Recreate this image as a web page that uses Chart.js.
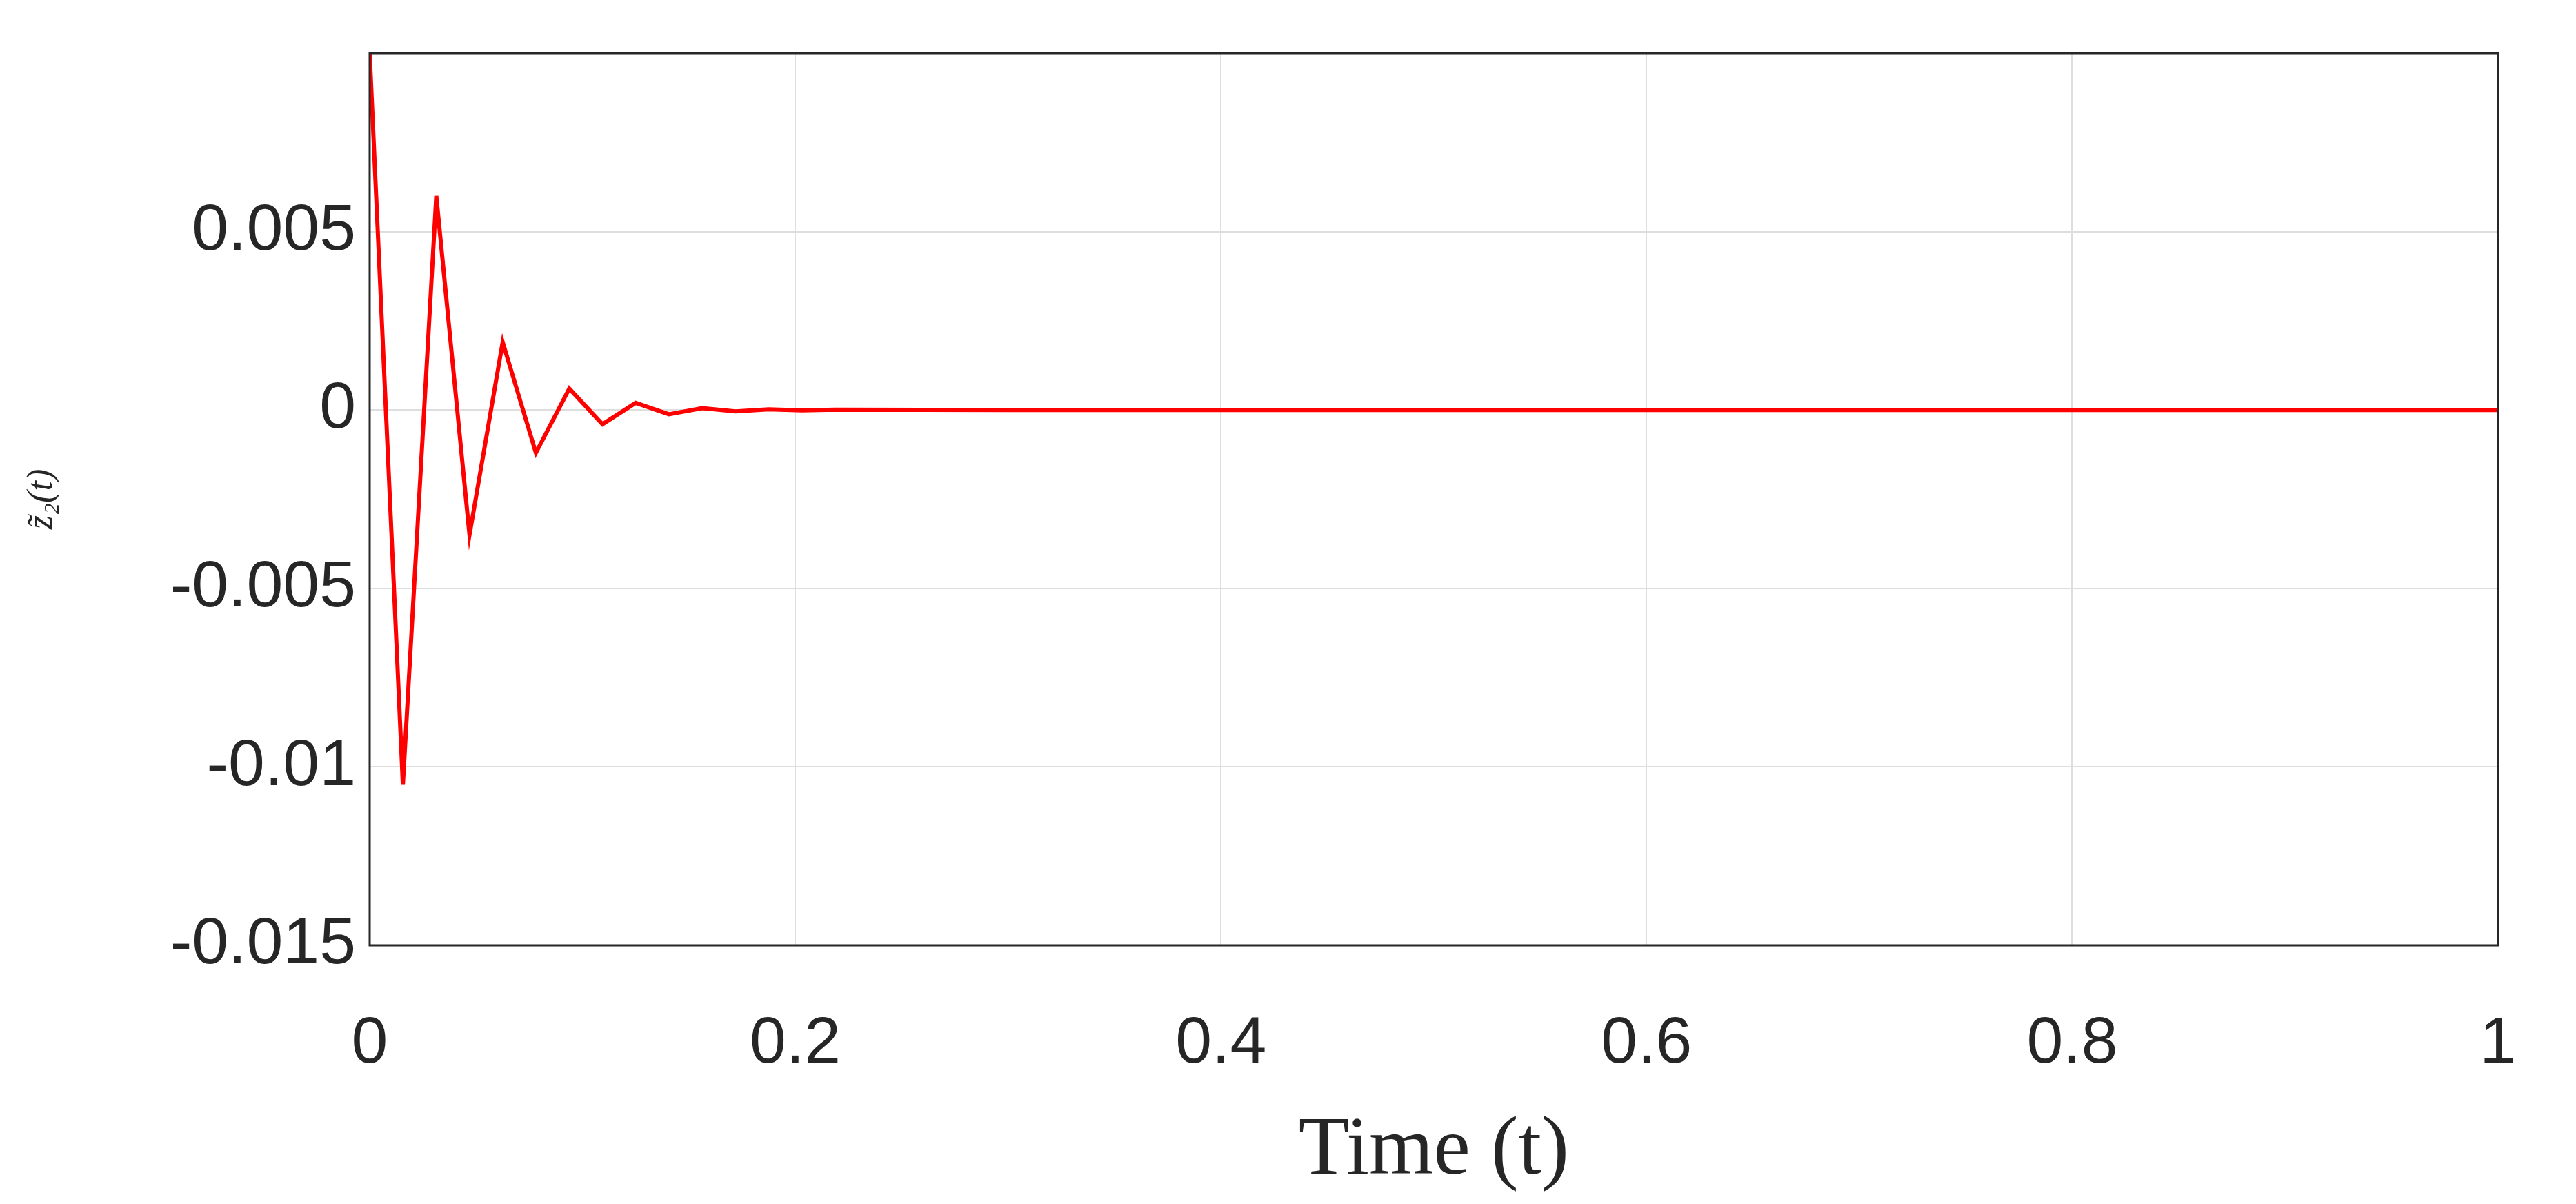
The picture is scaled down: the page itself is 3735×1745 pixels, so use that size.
<!DOCTYPE html>
<html>
<head>
<meta charset="utf-8">
<script src="https://cdn.jsdelivr.net/npm/chart.js@4/dist/chart.umd.min.js"></script>
<style>
  html, body { margin: 0; padding: 0; background: #fff; }
  #wrap { width: 3735px; height: 1745px; }
</style>
</head>
<body>
<div id="wrap"><canvas id="grafico"></canvas></div>
<script>
// time samples and error values
const tempos = [0, 0.0156, 0.0313, 0.0469, 0.0625, 0.0781, 0.0938, 0.1094, 0.125, 0.1406, 0.1563, 0.1719, 0.1875, 0.2031, 0.2188, 0.3, 0.5, 0.7, 0.9, 1];
const erro = [0.01, -0.0105, 0.006, -0.0035, 0.0019, -0.0012, 0.0006, -0.0004, 0.0002, -0.00012, 0.00005, -0.00004, 0.00002, -0.00001, 0.00001, 0, 0, 0, 0, 0];
const ticksX = [0, 0.2, 0.4, 0.6, 0.8, 1];
const ticksY = [-0.015, -0.01, -0.005, 0, 0.005];

const pontos = tempos.map((t, i) => ({ x: t, y: erro[i] }));

const moldura = {
  id: 'moldura',
  afterDraw(chart) {
    const a = chart.chartArea, ctx = chart.ctx;
    ctx.save();
    ctx.strokeStyle = '#262626';
    ctx.lineWidth = 3;
    ctx.strokeRect(a.left, a.top, a.right - a.left, a.bottom - a.top);
    ctx.restore();
  }
};

new Chart(document.getElementById('grafico'), {
  type: 'line',
  data: {
    datasets: [{
      data: pontos,
      borderColor: '#ff0000',
      borderWidth: 6,
      pointRadius: 0,
      tension: 0,
      fill: false
    }]
  },
  options: {
    responsive: true,
    maintainAspectRatio: false,
    animation: false,
    layout: { padding: { top: -28, right: 48, left: 0, bottom: 0 } },
    plugins: { legend: { display: false }, tooltip: { enabled: false } },
    scales: {
      x: {
        type: 'linear', min: 0, max: 1,
        afterBuildTicks: s => { s.ticks = ticksX.map(v => ({ value: v })); },
        afterFit: s => { s.height = 375; },
        grid: { color: '#dedede', lineWidth: 2, drawTicks: false },
        border: { display: false },
        ticks: { color: '#262626', padding: 87, font: { family: 'Arial, Liberation Sans', size: 95 }, maxRotation: 0,
          callback: v => String(v) },
        title: { display: true, text: 'Time (t)', color: '#262626', font: { family: 'Liberation Serif', size: 120 }, padding: { top: 20 } }
      },
      y: {
        min: -0.015, max: 0.01,
        afterBuildTicks: s => { s.ticks = ticksY.map(v => ({ value: v })); },
        afterFit: s => { s.width = 536; },
        grid: { color: '#dedede', lineWidth: 2, drawTicks: false },
        border: { display: false },
        ticks: { color: '#262626', padding: 20, font: { family: 'Arial, Liberation Sans', size: 95 },
          callback: v => String(v) },
        title: { display: true, text: 'z̃₂(t)', color: '#262626', padding: { top: 30, bottom: 0 }, font: { family: 'Liberation Serif', size: 52, style: 'italic' } }
      }
    }
  },
  plugins: [moldura]
});
</script>
</body>
</html>
